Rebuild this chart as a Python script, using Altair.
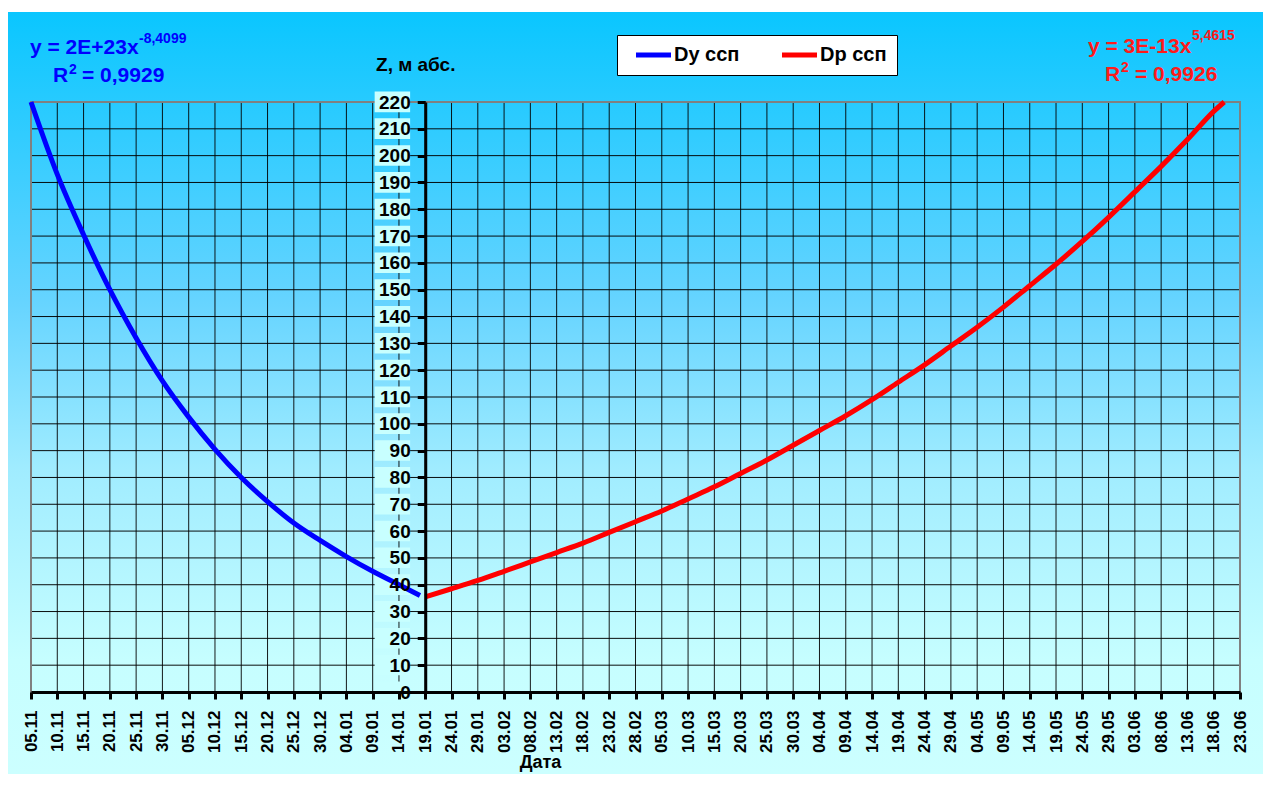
import altair as alt
import pandas as pd

# ---------------- data ----------------
TICK_LABELS = ["05.11", "10.11", "15.11", "20.11", "25.11", "30.11", "05.12", "10.12",
               "15.12", "20.12", "25.12", "30.12", "04.01", "09.01", "14.01", "19.01",
               "24.01", "29.01", "03.02", "08.02", "13.02", "18.02", "23.02", "28.02",
               "05.03", "10.03", "15.03", "20.03", "25.03", "30.03", "04.04", "09.04",
               "14.04", "19.04", "24.04", "29.04", "04.05", "09.05", "14.05", "19.05",
               "24.05", "29.05", "03.06", "08.06", "13.06", "18.06", "23.06"]
Y_TICKS = list(range(0, 230, 10))

BLUE_NAME = "Dy ссп"
BLUE_DATES = ["05.11", "10.11", "15.11", "20.11", "25.11", "30.11", "05.12", "10.12",
              "15.12", "20.12", "25.12", "30.12", "04.01", "09.01", "14.01", "18.01"]
BLUE_VALUES = [220, 193, 170.5, 150, 132, 116, 102.5, 90.5,
               80, 71, 63, 56.5, 50.5, 45, 40, 36]

RED_NAME = "Dp ссп"
RED_DATES = ["19.01", "24.01", "29.01", "03.02", "08.02", "13.02", "18.02", "23.02",
             "28.02", "05.03", "10.03", "15.03", "20.03", "25.03", "30.03", "04.04",
             "09.04", "14.04", "19.04", "24.04", "29.04", "04.05", "09.05", "14.05",
             "19.05", "24.05", "29.05", "03.06", "08.06", "13.06", "18.06", "20.06"]
RED_VALUES = [35.5, 38.5, 41.6, 45, 48.5, 52, 55.5, 59.5,
              63.5, 67.5, 72, 76.5, 81.5, 86.5, 92, 97.5,
              103, 109, 115.5, 122, 129, 136, 143.5, 151.5,
              159.5, 168, 177, 186.5, 196, 206, 216.5, 220]

Y_TITLE = "Z, м абс."
X_TITLE = "Дата"
BLUE_EQ = "y = 2E+23x"
BLUE_EXP = "-8,4099"
BLUE_R2 = "= 0,9929"
RED_EQ = "y = 3E-13x"
RED_EXP = "5,4615"
RED_R2 = "= 0,9926"
CROSS_DATE = "19.01"
LABEL_BOX = ("09.01", 9, "16.01", 3)  # date/hour span behind y labels


def split(lbl):
    d, m = lbl.split(".")
    d, m = int(d), int(m)
    y = 2010 if m >= 11 else 2011
    return y, m, d


def iso(lbl, hour=0):
    y, m, d = split(lbl)
    return f"{y:04d}-{m:02d}-{d:02d}T{hour:02d}:00:00"


def dt(lbl):
    y, m, d = split(lbl)
    return alt.DateTime(year=y, month=m, date=d)


FONT = "Liberation Sans"
W, H = 1209, 590
PAD = {"left": 23, "top": 94, "right": 23, "bottom": 82}

lines_df = pd.concat([
    pd.DataFrame({"date": [iso(d) for d in BLUE_DATES], "value": BLUE_VALUES, "series": BLUE_NAME}),
    pd.DataFrame({"date": [iso(d) for d in RED_DATES], "value": RED_VALUES, "series": RED_NAME}),
], ignore_index=True)
ticks_df = pd.DataFrame({"date": [iso(t) for t in TICK_LABELS]})
ygrid_df = pd.DataFrame({"value": Y_TICKS[1:-1]})
ylab_df = pd.DataFrame({"value": Y_TICKS,
                        "date": iso(LABEL_BOX[0], LABEL_BOX[1]),
                        "date2": iso(LABEL_BOX[2], LABEL_BOX[3])})
border_df = pd.DataFrame({"date": [iso(TICK_LABELS[0])], "date2": [iso(TICK_LABELS[-1])],
                          "value": [Y_TICKS[0]], "value2": [Y_TICKS[-1]]})
one = pd.DataFrame({"k": [0]})

x_scale = alt.Scale(domain=[dt(TICK_LABELS[0]), dt(TICK_LABELS[-1])], nice=False)
y_scale = alt.Scale(domain=[Y_TICKS[0], Y_TICKS[-1]], nice=False)

days_total = (pd.Timestamp(iso(TICK_LABELS[-1])) - pd.Timestamp(iso(TICK_LABELS[0]))).days
days_cross = (pd.Timestamp(iso(CROSS_DATE)) - pd.Timestamp(iso(TICK_LABELS[0]))).days
y_offset = -W * days_cross / days_total

x_axis = alt.Axis(
    values=[dt(t) for t in TICK_LABELS], format="%d.%m", labelAngle=-90,
    labelFont=FONT, labelFontSize=17, labelFontWeight="bold", labelColor="black",
    labelPadding=11, labelOverlap=False, labelFlush=False,
    tickSize=7, tickWidth=3, tickColor="black", domainColor="black", domainWidth=3,
    grid=False, title=X_TITLE, titleFont=FONT, titleFontSize=18, titleFontWeight="bold",
    titleColor="black", titleX=509, titleY=70, titleAlign="center", titleBaseline="middle",
    zindex=1)
y_axis = alt.Axis(
    values=Y_TICKS, offset=y_offset, labelFont=FONT, labelFontSize=19, labelFontWeight="bold",
    labelColor="black", labelPadding=7, labelOverlap=False, labelFlush=False,
    tickSize=8, tickWidth=3, tickColor="black", domainColor="black", domainWidth=3,
    grid=False, title=Y_TITLE, titleFont=FONT, titleFontSize=19, titleFontWeight="bold",
    titleColor="black", titleAngle=0, titleX=-10, titleY=-38, titleAlign="center",
    titleBaseline="middle", zindex=1)

X = alt.X("date:T", scale=x_scale, axis=x_axis)
Y = alt.Y("value:Q", scale=y_scale, axis=y_axis)

gradient = alt.Gradient(
    gradient="linear", x1=0, x2=0, y1=0, y2=1,
    stops=[alt.GradientStop(offset=0, color="#0ac6ff"),
           alt.GradientStop(offset=0.38, color="#66d4ff"),
           alt.GradientStop(offset=0.6, color="#a0ecff"),
           alt.GradientStop(offset=0.85, color="#c6feff"),
           alt.GradientStop(offset=1, color="#ccffff")])

bg = alt.Chart(one).mark_rect(color=gradient).encode(
    x=alt.value(-PAD["left"]), x2=alt.value(W + PAD["right"]),
    y=alt.value(-90), y2=alt.value(H + PAD["bottom"]))

vgrid = alt.Chart(ticks_df).mark_rule(color="black", strokeWidth=1, opacity=0.9).encode(x=X)
hgrid = alt.Chart(ygrid_df).mark_rule(color="black", strokeWidth=1, opacity=0.95).encode(y=Y)

border = alt.Chart(border_df).mark_rect(filled=False, stroke="#808080", strokeWidth=2).encode(
    x=X, x2="date2:T", y=Y, y2="value2:Q")

label_bg = alt.Chart(ylab_df).transform_calculate(
    value="datum.value - 3.8", value2="datum.value + 7.7"
).mark_rect(color="#c8ffff").encode(x=X, x2="date2:T", y=Y, y2="value2:Q")

legend = alt.Legend(orient="none", legendX=586, legendY=-67,
                    direction="horizontal", title=None,
                    fillColor="white", strokeColor="black", padding=10,
                    symbolType="M-3.5,0L3.5,0", symbolSize=100, symbolStrokeWidth=5,
                    symbolOffset=16.5,
                    labelFont=FONT, labelFontSize=20, labelFontWeight="bold",
                    labelColor="black", labelOffset=10.5, columnPadding=32)

lines = alt.Chart(lines_df).mark_line(strokeWidth=5, interpolate="monotone").encode(
    x=X, y=Y,
    color=alt.Color("series:N",
                    scale=alt.Scale(domain=[BLUE_NAME, RED_NAME], range=["#0000ff", "#ff0000"]),
                    legend=legend))


def ann(text, x, y, size, color):
    return alt.Chart(one).mark_text(
        text=text, font=FONT, fontSize=size, fontWeight="bold", color=color,
        align="left", baseline="alphabetic").encode(x=alt.value(x), y=alt.value(y))


BLUE = "#0000ff"
RED = "#ff1a1a"
anns = [
    ann(BLUE_EQ, -1, -48, 21, BLUE), ann(BLUE_EXP, 108, -59, 14, BLUE),
    ann("R", 22, -20, 21, BLUE), ann("2", 38, -28, 14, BLUE), ann(BLUE_R2, 51, -20, 21, BLUE),
    ann(RED_EQ, 1057, -49.5, 21, RED), ann(RED_EXP, 1161, -62, 14, RED),
    ann("R", 1074, -21, 21, RED), ann("2", 1090, -30, 14, RED), ann(RED_R2, 1104, -21, 21, RED),
]

chart = alt.layer(bg, vgrid, hgrid, border, label_bg, lines, *anns).properties(
    width=W, height=H, padding=PAD, background="white",
    autosize=alt.AutoSizeParams(type="none"),
).configure_view(strokeWidth=0)

chart.save("out.html", embed_options={"renderer": "svg", "actions": False})
